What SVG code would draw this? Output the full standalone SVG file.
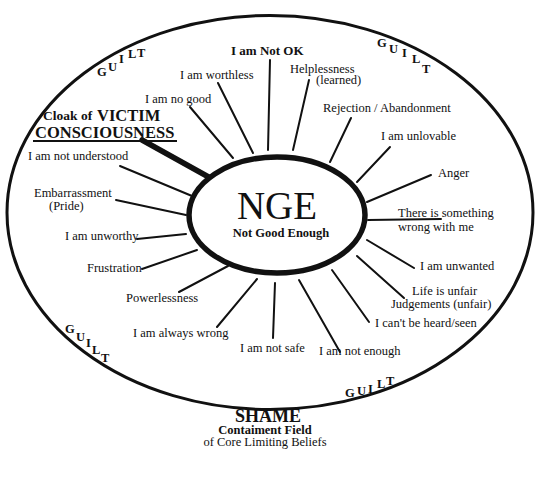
<svg xmlns="http://www.w3.org/2000/svg" width="550" height="477" viewBox="0 0 550 477">
<style>
.lbl{font-family:"Liberation Serif","Times New Roman",serif;font-size:12.5px;fill:#111}
.b{font-weight:bold}
.g{font-family:"Liberation Serif","Times New Roman",serif;font-size:12.5px;font-weight:bold;fill:#111}
.sp{stroke:#111;stroke-width:2;stroke-linecap:round;fill:none}
</style>
<rect width="550" height="477" fill="#fff"/>
<g id="field">
<ellipse cx="270" cy="212.5" rx="263" ry="197" fill="none" stroke="#111" stroke-width="3"/>
</g>
<g id="connectors">
<line class="sp" x1="270" y1="60" x2="268" y2="150"/>
<line class="sp" x1="218" y1="83" x2="253" y2="153"/>
<line class="sp" x1="190" y1="107" x2="233" y2="158"/>
<line class="sp" x1="309" y1="80" x2="293" y2="150"/>
<line class="sp" x1="351" y1="118" x2="330" y2="162"/>
<line class="sp" x1="390" y1="147" x2="357" y2="182"/>
<line class="sp" x1="431" y1="175" x2="367" y2="202"/>
<line class="sp" x1="368" y1="220" x2="441" y2="219"/>
<line class="sp" x1="367" y1="240" x2="414" y2="268"/>
<line class="sp" x1="357" y1="256" x2="404" y2="298"/>
<line class="sp" x1="332" y1="270" x2="369" y2="322"/>
<line class="sp" x1="299" y1="280" x2="340" y2="352"/>
<line class="sp" x1="275" y1="283" x2="273" y2="338"/>
<line class="sp" x1="257" y1="279" x2="217" y2="327"/>
<line class="sp" x1="228" y1="266" x2="179" y2="292"/>
<line class="sp" x1="197" y1="250" x2="142" y2="269"/>
<line class="sp" x1="186" y1="234" x2="137" y2="239"/>
<line class="sp" x1="186" y1="215" x2="116" y2="200"/>
<line class="sp" x1="192" y1="196" x2="120" y2="166"/>
<line x1="142" y1="140" x2="214" y2="180" stroke="#111" stroke-width="5.5" stroke-linecap="round"/>
</g>
<g id="nge">
<ellipse cx="277" cy="215" rx="88" ry="58" fill="#fff" stroke="#111" stroke-width="5.5"/>
<text x="277" y="219" text-anchor="middle" style="font-family:'Liberation Serif','Times New Roman',serif;font-size:39px;fill:#111">NGE</text>
<text x="281" y="237" text-anchor="middle" class="lbl b" style="font-size:12.5px">Not Good Enough</text>
</g>
<g id="cloak">
<text x="43" y="120" class="lbl b" style="font-size:13.5px">Cloak of</text>
<text x="97" y="121" class="lbl b" style="font-size:16.5px">VICTIM</text>
<text x="35" y="138" class="lbl b" style="font-size:16.5px">CONSCIOUSNESS</text>
<line x1="33" y1="141" x2="177" y2="141" stroke="#111" stroke-width="2"/>
</g>
<g id="n-notok"><text x="231" y="55" class="lbl b" style="font-size:13px">I am Not OK</text></g>
<g id="n-worthless"><text x="180" y="79" class="lbl">I am worthless</text></g>
<g id="n-nogood"><text x="145" y="103" class="lbl">I am no good</text></g>
<g id="n-helpless"><text x="290" y="73" class="lbl">Helplessness</text><text x="316" y="84" class="lbl">(learned)</text></g>
<g id="n-rejection"><text x="323" y="112" class="lbl">Rejection / Abandonment</text></g>
<g id="n-unlovable"><text x="381" y="140" class="lbl">I am unlovable</text></g>
<g id="n-anger"><text x="438" y="177" class="lbl">Anger</text></g>
<g id="n-wrong"><text x="398" y="217" class="lbl">There is something</text><text x="398" y="231" class="lbl">wrong with me</text></g>
<g id="n-unwanted"><text x="420" y="270" class="lbl">I am unwanted</text></g>
<g id="n-unfair"><text x="412" y="295" class="lbl">Life is unfair</text><text x="391" y="308" class="lbl">Judgements (unfair)</text></g>
<g id="n-heard"><text x="375" y="327" class="lbl">I can't be heard/seen</text></g>
<g id="n-enough"><text x="319" y="355" class="lbl">I am not enough</text></g>
<g id="n-safe"><text x="240" y="352" class="lbl">I am not safe</text></g>
<g id="n-always"><text x="133" y="337" class="lbl">I am always wrong</text></g>
<g id="n-power"><text x="126" y="302" class="lbl">Powerlessness</text></g>
<g id="n-frust"><text x="87" y="272" class="lbl">Frustration</text></g>
<g id="n-unworthy"><text x="65" y="240" class="lbl">I am unworthy</text></g>
<g id="n-embarr"><text x="34" y="197" class="lbl">Embarrassment</text><text x="49" y="210" class="lbl">(Pride)</text></g>
<g id="n-understood"><text x="28" y="160" class="lbl">I am not understood</text></g>
<g id="guilt-tl">
<text x="97" y="76" class="g">G</text><text x="108" y="71" class="g">U</text><text x="119" y="63" class="g">I</text><text x="128" y="58" class="g">L</text><text x="137" y="57" class="g">T</text>
</g>
<g id="guilt-tr">
<text x="377" y="47" class="g">G</text><text x="389" y="53" class="g">U</text><text x="402" y="57" class="g">I</text><text x="412" y="63" class="g">L</text><text x="422" y="73" class="g">T</text>
</g>
<g id="guilt-bl">
<text x="65" y="333" class="g">G</text><text x="76" y="341" class="g">U</text><text x="86" y="347" class="g">I</text><text x="92" y="354" class="g">L</text><text x="101" y="362" class="g">T</text>
</g>
<g id="guilt-br">
<text x="345" y="397" class="g">G</text><text x="357" y="395" class="g">U</text><text x="368" y="393" class="g">I</text><text x="377" y="388" class="g">L</text><text x="386" y="385" class="g">T</text>
</g>
<g id="shame">
<text x="268" y="422" text-anchor="middle" class="lbl b" style="font-size:18px">SHAME</text>
<text x="265" y="434" text-anchor="middle" class="lbl b" style="font-size:12.5px">Contaiment Field</text>
<text x="265" y="446" text-anchor="middle" class="lbl">of Core Limiting Beliefs</text>
</g>
</svg>
